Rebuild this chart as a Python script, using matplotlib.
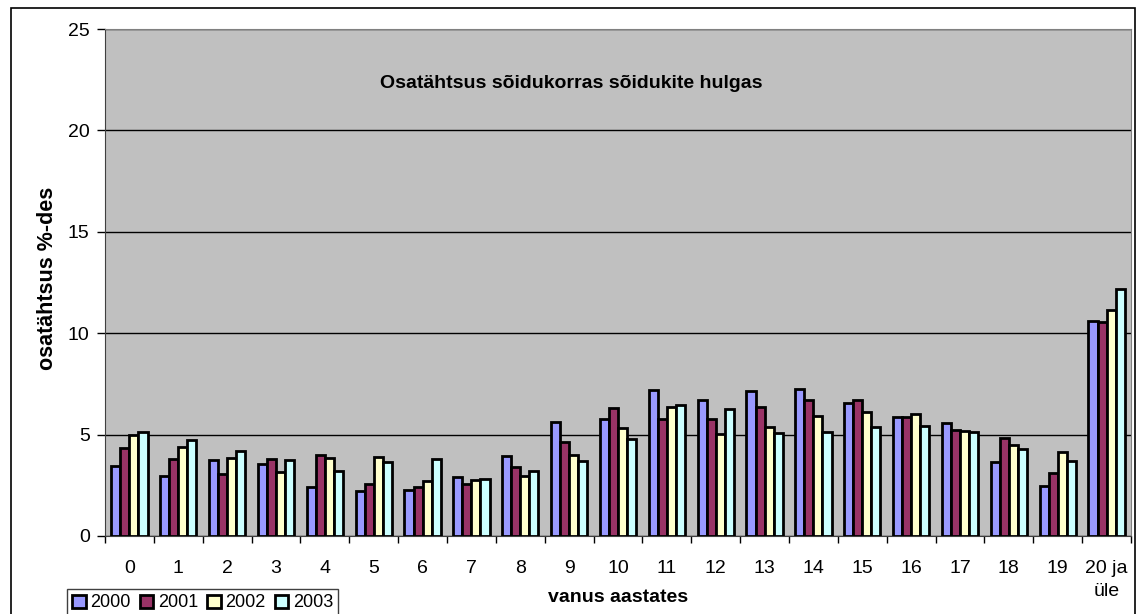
import matplotlib.pyplot as plt
import numpy as np
from matplotlib.patches import Rectangle

plt.rcParams['font.family'] = ['Liberation Sans', 'DejaVu Sans']

# andmed
categories = [str(i) for i in range(20)] + ['20 ja\nüle']
years = ['2000', '2001', '2002', '2003']
v2000 = [3.47, 2.97, 3.75, 3.55, 2.42, 2.24, 2.28, 2.91, 3.96, 5.61, 5.75,
         7.18, 6.69, 7.15, 7.25, 6.54, 5.87, 5.57, 3.65, 2.45, 10.62]
v2001 = [4.35, 3.81, 3.04, 3.80, 3.98, 2.55, 2.42, 2.56, 3.39, 4.65, 6.33,
         5.79, 5.77, 6.36, 6.72, 6.69, 5.87, 5.21, 4.83, 3.09, 10.54]
v2002 = [5.00, 4.40, 3.83, 3.17, 3.85, 3.90, 2.73, 2.76, 2.98, 3.98, 5.34,
         6.35, 5.01, 5.39, 5.92, 6.11, 6.00, 5.18, 4.50, 4.13, 11.13]
v2003 = [5.14, 4.72, 4.19, 3.73, 3.19, 3.65, 3.80, 2.83, 3.21, 3.68, 4.77,
         6.48, 6.26, 5.10, 5.11, 5.37, 5.42, 5.13, 4.31, 3.68, 12.16]
series = [v2000, v2001, v2002, v2003]
colors = ['#9999FF', '#993366', '#FFFFCC', '#CCFFFF']

fig = plt.figure(figsize=(11.37, 6.14), dpi=100)
ax = fig.add_axes([105 / 1137, 1 - 536 / 614, 1026 / 1137, 507 / 614])
ax.set_facecolor('#C0C0C0')

x = np.arange(len(categories))
w = 0.185
for i, (vals, c, yr) in enumerate(zip(series, colors, years)):
    ax.bar(x + (i - 1.5) * w, vals, w, color=c, edgecolor='black',
           linewidth=2, label=yr, zorder=3)

ax.set_xlim(-0.5, len(categories) - 0.5)
ax.set_ylim(0, 25)
ax.set_yticks([0, 5, 10, 15, 20, 25])
ax.yaxis.grid(True, color='black', linewidth=1, zorder=1)
ax.set_axisbelow(True)

ax.set_xticks(x)
ax.set_xticklabels(categories, linespacing=1.5)
ax.set_xticks(np.arange(-0.5, len(categories)), minor=True)
ax.tick_params(axis='x', which='major', length=0, pad=17, labelsize=14)
ax.tick_params(axis='x', which='minor', length=5, width=1, direction='out')
ax.tick_params(axis='y', length=6, width=1, pad=5, labelsize=14)

for s in ['top', 'right']:
    ax.spines[s].set_color('#808080')
for s in ['left', 'bottom']:
    ax.spines[s].set_color('#404040')

fig.text(571 / 1137, 1 - 84 / 614, 'Osatähtsus sõidukorras sõidukite hulgas',
         fontsize=14, fontweight='bold', ha='center', va='center')
fig.text(48 / 1137, 1 - 278 / 614, 'osatähtsus %-des', rotation=90,
         fontsize=15.5, fontweight='bold', ha='center', va='center')
fig.text(618 / 1137, 1 - 598 / 614, 'vanus aastates', fontsize=14,
         fontweight='bold', ha='center', va='center')

leg = fig.legend(loc='upper left', bbox_to_anchor=(58 / 1137, 1 - 580 / 614),
                 ncol=4, fontsize=13, handlelength=0.75, handleheight=0.75,
                 handletextpad=0.25, columnspacing=0.5, borderpad=0.3,
                 fancybox=False, framealpha=1, edgecolor='#404040')

# raam ümber joonise
fig.patches.append(Rectangle((11 / 1137, -0.01), 1124 / 1137, 1 - 8 / 614 + 0.01,
                             transform=fig.transFigure, fill=False,
                             edgecolor='black', linewidth=1.2))

fig.savefig('out.png', dpi=100)
